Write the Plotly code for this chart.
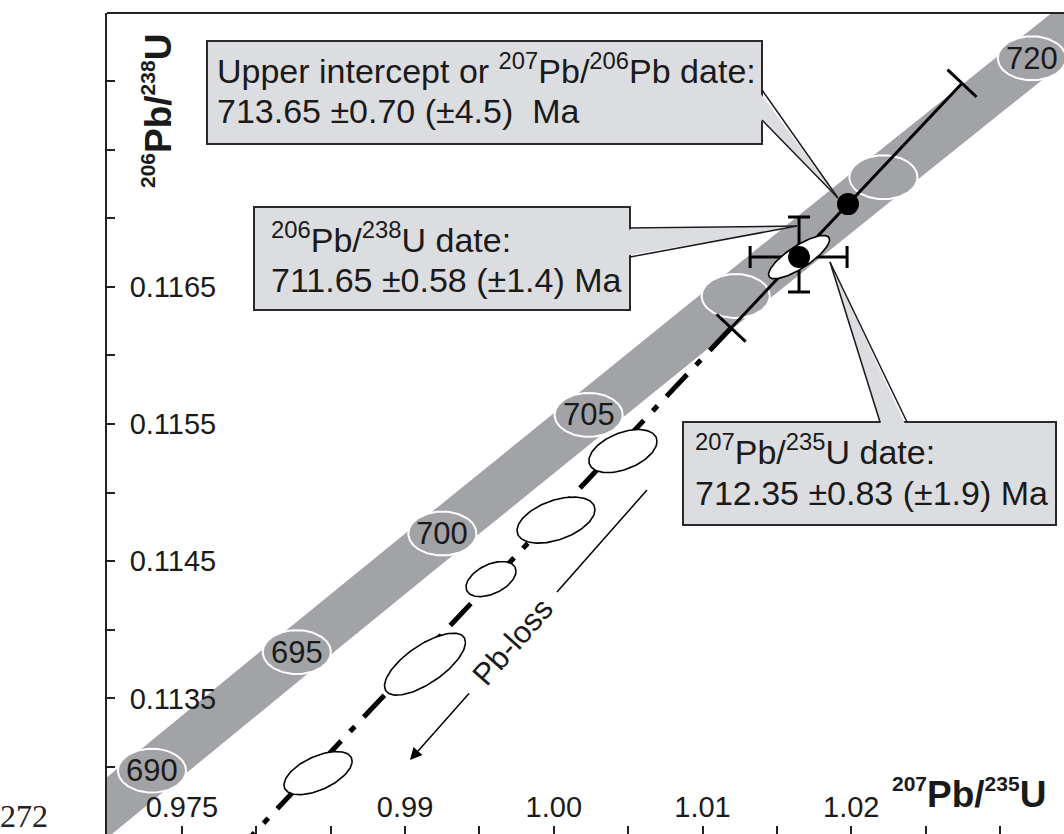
import numpy as np
import plotly.graph_objects as go

# ---------------- data ----------------
# Concordia (age in Ma, 207Pb/235U, 206Pb/238U)
conc_age = [685, 690, 695, 700, 705, 710, 715, 720, 725]
conc_x = [0.963292, 0.972984, 0.982723, 0.992510, 1.002345, 1.012231, 1.022164, 1.032146, 1.042177]
conc_y = [0.112112, 0.112974, 0.113838, 0.114702, 0.115567, 0.116433, 0.117299, 0.118166, 0.119034]
band_half_width = 0.0025          # decay-constant uncertainty band (in 207Pb/235U)
marker_ages = [690, 695, 700, 705, 710, 715, 720]
marker_labels = ["690", "695", "700", "705", "", "", "720"]
marker_rx, marker_ry = 0.00229, 0.00016

# Analyses: error ellipses (centre, 2-sigma half-extent, correlation)
ell_x = [1.01649, 1.00465, 1.00015, 0.99578, 0.99134, 0.98415]
ell_y = [0.116717, 0.115303, 0.114800, 0.114370, 0.113750, 0.112956]
ell_sx = [0.00205, 0.00229, 0.00262, 0.00168, 0.00272, 0.00229]
ell_sy = [0.000158, 0.000157, 0.000168, 0.000128, 0.000226, 0.000157]
ell_rho = [0.80, 0.45, 0.45, 0.45, 0.70, 0.55]

# Weighted-mean concordant point and its total uncertainties
wm_x, wm_y = 1.01649, 0.116717
wm_ex_plus, wm_ex_minus = 0.00323, 0.00329
wm_ey_plus, wm_ey_minus = 0.000292, 0.000255

# Discordia: lower intercept ~ origin, upper intercept
li_x, li_y = 0.0, 0.0
ui_x, ui_y = 1.01978, 0.117103
ui_lo_x, ui_hi_x = 1.01192, 1.02745   # upper-intercept uncertainty limits
disc_start_x = 0.9785

# Axis ticks
x_label_vals = [0.975, 0.99, 1.00, 1.01, 1.02]
x_label_text = ["0.975", "0.99", "1.00", "1.01", "1.02"]
x_minor_vals = [0.975, 0.98, 0.985, 0.99, 0.995, 1.00, 1.005, 1.01, 1.015, 1.02, 1.025, 1.03]
y_label_vals = [0.1135, 0.1145, 0.1155, 0.1165]
y_label_text = ["0.1135", "0.1145", "0.1155", "0.1165"]
y_minor_vals = [0.113, 0.1135, 0.114, 0.1145, 0.115, 0.1155, 0.116, 0.1165, 0.117, 0.1175, 0.118]

# ---------------- geometry helpers ----------------
X_LO, X_HI = 0.96996, 1.034305
Y_LO, Y_HI = 0.112512, 0.118496
L, T, W, H = 107, 13, 957, 821


def X(px):
    return X_LO + (px - L) / W * (X_HI - X_LO)


def Y(py):
    return Y_HI - (py - T) / H * (Y_HI - Y_LO)


def disc_y(x):
    return li_y + (ui_y - li_y) * (x - li_x) / (ui_x - li_x)


BAND = "#a2a3a6"
BOXFILL = "#dcdde0"
INK = "#1a1a1a"
FONT = "Liberation Sans, Arial, sans-serif"

fig = go.Figure()

# concordia band
bx = [x - band_half_width for x in conc_x] + [x + band_half_width for x in reversed(conc_x)]
by = list(conc_y) + list(reversed(conc_y))
fig.add_trace(go.Scatter(x=bx, y=by, mode="lines", fill="toself", fillcolor=BAND,
                         line=dict(width=0), hoverinfo="skip", showlegend=False))

t = np.linspace(0, 2 * np.pi, 121)
# age markers
for age in marker_ages:
    i = conc_age.index(age)
    cx, cy = conc_x[i], conc_y[i]
    fig.add_trace(go.Scatter(x=cx + marker_rx * np.cos(t), y=cy + marker_ry * np.sin(t),
                             mode="lines", fill="toself", fillcolor=BAND,
                             line=dict(color="white", width=2), hoverinfo="skip", showlegend=False))

# discordia dash-dot part
fig.add_trace(go.Scatter(x=[disc_start_x, ui_lo_x], y=[disc_y(disc_start_x), disc_y(ui_lo_x)],
                         mode="lines", line=dict(color="black", width=5, dash="30px,13px,7px,13px"),
                         hoverinfo="skip", showlegend=False))
# solid part with caps
dxs = (ui_hi_x - ui_lo_x)
ddy = disc_y(ui_hi_x) - disc_y(ui_lo_x)
pxs = dxs / (X_HI - X_LO) * W
pys = ddy / (Y_HI - Y_LO) * H
nrm = np.hypot(pxs, pys)
perp_px = (-pys / nrm * 20, pxs / nrm * 20)
cdx = perp_px[0] / W * (X_HI - X_LO)
cdy = perp_px[1] / H * (Y_HI - Y_LO)
cx_list, cy_list = [ui_lo_x, ui_hi_x, None], [disc_y(ui_lo_x), disc_y(ui_hi_x), None]
for xx in (ui_lo_x, ui_hi_x):
    yy = disc_y(xx)
    cx_list += [xx - cdx, xx + cdx, None]
    cy_list += [yy - cdy, yy + cdy, None]
fig.add_trace(go.Scatter(x=cx_list, y=cy_list, mode="lines", line=dict(color="black", width=3),
                         hoverinfo="skip", showlegend=False))

# error cross of the weighted mean point
fig.add_trace(go.Scatter(x=[wm_x], y=[wm_y], mode="markers", marker=dict(size=1, opacity=0),
                         error_x=dict(type="data", symmetric=False, array=[wm_ex_plus],
                                      arrayminus=[wm_ex_minus], color="black", thickness=3, width=11),
                         error_y=dict(type="data", symmetric=False, array=[wm_ey_plus],
                                      arrayminus=[wm_ey_minus], color="black", thickness=3, width=11),
                         hoverinfo="skip", showlegend=False))

# analyses ellipses
for cx, cy, sx, sy, r in zip(ell_x, ell_y, ell_sx, ell_sy, ell_rho):
    ex = cx + sx * np.cos(t)
    ey = cy + sy * (r * np.cos(t) + np.sqrt(1 - r * r) * np.sin(t))
    fig.add_trace(go.Scatter(x=ex, y=ey, mode="lines", fill="toself", fillcolor="white",
                             line=dict(color="black", width=1.6), hoverinfo="skip", showlegend=False))

# dots
fig.add_trace(go.Scatter(x=[ui_x, wm_x], y=[ui_y, wm_y], mode="markers",
                         marker=dict(size=22, color="black"), hoverinfo="skip", showlegend=False))

# ---------------- callout boxes ----------------
shapes = []


def box(x0, y0, x1, y1):
    shapes.append(dict(type="rect", xref="x", yref="y", x0=X(x0), x1=X(x1), y0=Y(y1), y1=Y(y0),
                       fillcolor=BOXFILL, line=dict(color="#2a2a2a", width=2), layer="above"))


def wedge(b1, b2, tip, inner):
    ia, ib = inner
    path = "M {},{} L {},{} L {},{} Z".format(X(ia[0]), Y(ia[1]), X(tip[0]), Y(tip[1]),
                                              X(ib[0]), Y(ib[1]))
    shapes.append(dict(type="path", xref="x", yref="y", path=path, fillcolor=BOXFILL,
                       line=dict(width=0), layer="above"))
    for p in (b1, b2):
        shapes.append(dict(type="line", xref="x", yref="y", x0=X(p[0]), y0=Y(p[1]),
                           x1=X(tip[0]), y1=Y(tip[1]), line=dict(color="#1a1a1a", width=1.5),
                           layer="above"))


box(207, 41, 762, 144)
wedge((762, 90), (762, 120), (838, 198), ((759, 91.5), (759, 118.5)))
box(254, 207, 630, 310)
wedge((630, 228), (630, 257), (797, 226), ((627, 229.5), (627, 255.5)))
box(683, 422, 1056, 525)
wedge((880, 422), (907, 422), (830, 262), ((881.5, 425), (905.5, 425)))

# Pb-loss arrow upper segment
shapes.append(dict(type="line", xref="x", yref="y", x0=X(647), y0=Y(490), x1=X(557), y1=Y(592),
                   line=dict(color="black", width=1.5)))
# top frame
shapes.append(dict(type="line", xref="paper", yref="paper", x0=0, x1=1, y0=1, y1=1,
                   line=dict(color="#222222", width=2)))

ann = []


def txt(px, baseline, text, size=34):
    ann.append(dict(x=X(px), y=Y(baseline + 0.212 * size), xref="x", yref="y", text=text,
                    showarrow=False, xanchor="left", yanchor="bottom", align="left",
                    borderpad=0, borderwidth=0,
                    font=dict(family=FONT, size=size, color=INK)))


txt(217, 83, "Upper intercept or <sup>207</sup>Pb/<sup>206</sup>Pb date:")
txt(217, 123, "713.65 ±0.70 (±4.5)  Ma")
txt(271, 252, "<sup>206</sup>Pb/<sup>238</sup>U date:")
txt(271, 292, "711.65 ±0.58 (±1.4) Ma")
txt(695, 464, "<sup>207</sup>Pb/<sup>235</sup>U date:")
txt(695, 505, "712.35 ±0.83 (±1.9) Ma")

# age labels
for age, lab in zip(marker_ages, marker_labels):
    if lab:
        i = conc_age.index(age)
        ann.append(dict(x=conc_x[i], y=conc_y[i], xref="x", yref="y", text=lab, showarrow=False,
                        xanchor="center", yanchor="middle",
                        font=dict(family=FONT, size=31, color=INK)))

# Pb-loss label and arrow
ann.append(dict(x=X(512), y=Y(642), xref="x", yref="y", text="Pb-loss", showarrow=False,
                textangle=-48.7, font=dict(family=FONT, size=31, color=INK)))
ann.append(dict(x=X(410), y=Y(760), ax=X(472), ay=Y(690), xref="x", yref="y", axref="x", ayref="y",
                text=" ", showarrow=True, arrowhead=2, arrowsize=1.6, arrowwidth=1.5, arrowcolor="black"))

# axis titles
SUP = "<sup><span style='font-size:21px'>{}</span></sup>"
ann.append(dict(x=X(157), y=Y(111), xref="x", yref="y", textangle=-90, showarrow=False,
                text="<b>" + SUP.format("206") + "Pb/" + SUP.format("238") + "U</b>",
                xanchor="center", yanchor="middle", font=dict(family=FONT, size=37, color=INK)))
ann.append(dict(x=X(1046), y=Y(815), xref="x", yref="y", showarrow=False,
                text="<b>" + SUP.format("207") + "Pb/" + SUP.format("235") + "U</b>",
                xanchor="right", yanchor="bottom", borderpad=0, borderwidth=0,
                font=dict(family=FONT, size=37, color=INK)))

# page number
ann.append(dict(x=-107 / W, y=0, xref="paper", yref="paper", text="272", showarrow=False,
                xanchor="left", yanchor="bottom", borderpad=0, borderwidth=0,
                font=dict(family="Liberation Serif, Times New Roman, serif", size=32, color="#222222")))

fig.update_layout(
    width=1064, height=834,
    margin=dict(l=L, r=0, t=T, b=0, pad=0),
    paper_bgcolor="white", plot_bgcolor="white",
    shapes=shapes, annotations=ann, showlegend=False,
    xaxis=dict(range=[X_LO, X_HI], showgrid=False, zeroline=False, showline=False, automargin=False,
               tickmode="array", tickvals=x_label_vals, ticktext=x_label_text,
               ticks="", ticklabelposition="inside", ticklabelstandoff=8,
               tickfont=dict(family=FONT, size=29, color=INK),
               minor=dict(tickmode="array", tickvals=x_minor_vals, ticks="inside", ticklen=8,
                          tickwidth=2, tickcolor="#222222", showgrid=False)),
    yaxis=dict(range=[Y_LO, Y_HI], showgrid=False, zeroline=False, showline=True, automargin=False,
               linecolor="#222222", linewidth=2,
               tickmode="array", tickvals=y_label_vals, ticktext=y_label_text,
               ticks="", ticklabelposition="outside", ticklabelstandoff=-117,
               tickfont=dict(family=FONT, size=29, color=INK),
               minor=dict(tickmode="array", tickvals=y_minor_vals, ticks="inside", ticklen=8,
                          tickwidth=2, tickcolor="#222222", showgrid=False)),
)

fig.write_html("out.html", config={"displayModeBar": False},
               post_script="document.body.style.margin='0';document.body.style.overflow='hidden';")
